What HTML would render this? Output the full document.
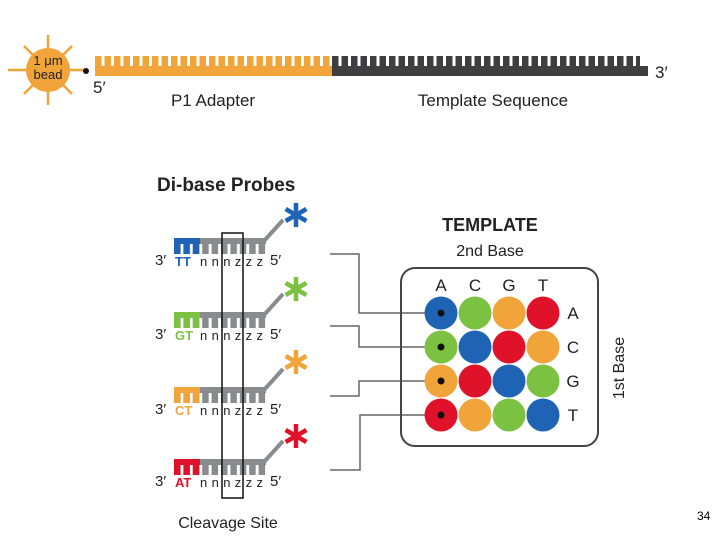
<!DOCTYPE html>
<html><head><meta charset="utf-8"><style>
html,body{margin:0;padding:0;background:#fff;width:720px;height:540px;overflow:hidden}
svg{display:block}
text{font-family:"Liberation Sans",sans-serif}
</style></head><body>
<svg width="720" height="540" viewBox="0 0 720 540" xmlns="http://www.w3.org/2000/svg">
<defs>
<pattern id="po" x="95" y="0" width="9.5" height="20" patternUnits="userSpaceOnUse"><rect x="0" y="0" width="6.5" height="20" fill="#f0a43a"/></pattern>
<pattern id="pg" x="332" y="0" width="9.5" height="20" patternUnits="userSpaceOnUse"><rect x="0" y="0" width="6.5" height="20" fill="#3f3f42"/></pattern>
<pattern id="pgr" x="174" y="0" width="9.4" height="20" patternUnits="userSpaceOnUse"><rect x="0" y="0" width="6.5" height="20" fill="#8a8b8e"/></pattern>
<pattern id="pb1" x="174" width="9.4" height="20" patternUnits="userSpaceOnUse"><rect width="6.5" height="20" fill="#1f63b4"/></pattern>
<pattern id="pb2" x="174" width="9.4" height="20" patternUnits="userSpaceOnUse"><rect width="6.5" height="20" fill="#7cc242"/></pattern>
<pattern id="pb3" x="174" width="9.4" height="20" patternUnits="userSpaceOnUse"><rect width="6.5" height="20" fill="#f0a43a"/></pattern>
<pattern id="pb4" x="174" width="9.4" height="20" patternUnits="userSpaceOnUse"><rect width="6.5" height="20" fill="#e0122a"/></pattern>
<g id="star"><g stroke-width="4.5" stroke-linecap="butt">
<line x1="0" y1="-12" x2="0" y2="12"/><line x1="-10.4" y1="-6" x2="10.4" y2="6"/><line x1="-10.4" y1="6" x2="10.4" y2="-6"/></g></g>
</defs>
<!-- bead -->
<g stroke="#f0a43a" stroke-width="2.5">
<line x1="8" y1="70" x2="88" y2="70"/><line x1="48" y1="35" x2="48" y2="105"/>
<line x1="24" y1="46" x2="72" y2="94"/><line x1="24" y1="94" x2="72" y2="46"/>
</g>
<circle cx="48" cy="70" r="22" fill="#f0a43a"/>
<text x="48" y="65" font-size="13" text-anchor="middle" fill="#222">1 μm</text>
<text x="48" y="79" font-size="13" text-anchor="middle" fill="#222">bead</text>
<circle cx="86" cy="71" r="3" fill="#111"/>
<!-- adapter -->
<rect x="95" y="56" width="237" height="12" fill="url(#po)"/>
<rect x="95" y="66" width="237" height="10" fill="#f0a43a"/>
<rect x="332" y="56" width="308" height="12" fill="url(#pg)"/>
<rect x="332" y="66" width="316" height="10" fill="#3f3f42"/>
<text x="93" y="93" font-size="17" fill="#222">5′</text>
<text x="655" y="78" font-size="17" fill="#222">3′</text>
<text x="213" y="106" font-size="17" text-anchor="middle" fill="#222">P1 Adapter</text>
<text x="493" y="106" font-size="17" text-anchor="middle" fill="#222">Template Sequence</text>
<!-- probes -->
<text x="157" y="191" font-size="19" font-weight="bold" fill="#222">Di-base Probes</text>
<!-- Row 1 blue -->
<rect x="174" y="238" width="92" height="16" fill="url(#pgr)"/><rect x="174" y="238" width="92" height="6" fill="#8a8b8e"/>
<rect x="174" y="238" width="26" height="16" fill="url(#pb1)"/><rect x="174" y="238" width="26" height="6" fill="#1f63b4"/>
<line x1="264" y1="241" x2="283" y2="220" stroke="#8a8b8e" stroke-width="4"/>
<use href="#star" x="296" y="215" stroke="#1f63b4"/>
<text x="155" y="265" font-size="15" fill="#222">3′</text>
<text x="175" y="266" font-size="13" font-weight="bold" fill="#1f63b4">TT</text>
<text x="200" y="266" font-size="13" fill="#222" textLength="63" lengthAdjust="spacing">nnnzzz</text>
<text x="270" y="265" font-size="15" fill="#222">5′</text>
<!-- Row 2 green -->
<rect x="174" y="312" width="92" height="16" fill="url(#pgr)"/><rect x="174" y="312" width="92" height="6" fill="#8a8b8e"/>
<rect x="174" y="312" width="26" height="16" fill="url(#pb2)"/><rect x="174" y="312" width="26" height="6" fill="#7cc242"/>
<line x1="264" y1="315" x2="283" y2="294" stroke="#8a8b8e" stroke-width="4"/>
<use href="#star" x="296" y="289" stroke="#7cc242"/>
<text x="155" y="339" font-size="15" fill="#222">3′</text>
<text x="175" y="340" font-size="13" font-weight="bold" fill="#7cc242">GT</text>
<text x="200" y="340" font-size="13" fill="#222" textLength="63" lengthAdjust="spacing">nnnzzz</text>
<text x="270" y="339" font-size="15" fill="#222">5′</text>
<!-- Row 3 orange -->
<rect x="174" y="387" width="92" height="16" fill="url(#pgr)"/><rect x="174" y="387" width="92" height="6" fill="#8a8b8e"/>
<rect x="174" y="387" width="26" height="16" fill="url(#pb3)"/><rect x="174" y="387" width="26" height="6" fill="#f0a43a"/>
<line x1="264" y1="390" x2="283" y2="369" stroke="#8a8b8e" stroke-width="4"/>
<use href="#star" x="296" y="362" stroke="#f0a43a"/>
<text x="155" y="414" font-size="15" fill="#222">3′</text>
<text x="175" y="415" font-size="13" font-weight="bold" fill="#f0a43a">CT</text>
<text x="200" y="415" font-size="13" fill="#222" textLength="63" lengthAdjust="spacing">nnnzzz</text>
<text x="270" y="414" font-size="15" fill="#222">5′</text>
<!-- Row 4 red -->
<rect x="174" y="459" width="92" height="16" fill="url(#pgr)"/><rect x="174" y="459" width="92" height="6" fill="#8a8b8e"/>
<rect x="174" y="459" width="26" height="16" fill="url(#pb4)"/><rect x="174" y="459" width="26" height="6" fill="#e0122a"/>
<line x1="264" y1="462" x2="283" y2="441" stroke="#8a8b8e" stroke-width="4"/>
<use href="#star" x="296" y="436" stroke="#e0122a"/>
<text x="155" y="486" font-size="15" fill="#222">3′</text>
<text x="175" y="487" font-size="13" font-weight="bold" fill="#e0122a">AT</text>
<text x="200" y="487" font-size="13" fill="#222" textLength="63" lengthAdjust="spacing">nnnzzz</text>
<text x="270" y="486" font-size="15" fill="#222">5′</text>
<!-- cleavage box -->
<rect x="222" y="233" width="21" height="265" fill="none" stroke="#111" stroke-width="1.5"/>
<text x="228" y="528" font-size="16" text-anchor="middle" fill="#222">Cleavage Site</text>
<!-- connectors -->
<g fill="none" stroke="#666" stroke-width="1.5">
<polyline points="330,254 359,254 359,313 441,313"/>
<polyline points="330,326 359,326 359,347 441,347"/>
<polyline points="330,396 359,396 359,381 441,381"/>
<polyline points="330,470 360,470 360,415 441,415"/>
</g>
<!-- grid -->
<text x="490" y="231" font-size="18" font-weight="bold" text-anchor="middle" fill="#222">TEMPLATE</text>
<text x="490" y="256" font-size="16" text-anchor="middle" fill="#222">2nd Base</text>
<rect x="401" y="268" width="197" height="178" rx="14" fill="none" stroke="#444" stroke-width="2"/>
<g font-size="17" fill="#222" text-anchor="middle">
<text x="441" y="291">A</text><text x="475" y="291">C</text><text x="509" y="291">G</text><text x="543" y="291">T</text>
<text x="573" y="319">A</text><text x="573" y="353">C</text><text x="573" y="387">G</text><text x="573" y="421">T</text>
</g>
<text transform="translate(624,368) rotate(-90)" font-size="16" text-anchor="middle" fill="#222">1st Base</text>
<g>
<circle cx="441" cy="313" r="16.5" fill="#1f63b4"/><circle cx="475" cy="313" r="16.5" fill="#7cc242"/><circle cx="509" cy="313" r="16.5" fill="#f0a43a"/><circle cx="543" cy="313" r="16.5" fill="#e0122a"/>
<circle cx="441" cy="347" r="16.5" fill="#7cc242"/><circle cx="475" cy="347" r="16.5" fill="#1f63b4"/><circle cx="509" cy="347" r="16.5" fill="#e0122a"/><circle cx="543" cy="347" r="16.5" fill="#f0a43a"/>
<circle cx="441" cy="381" r="16.5" fill="#f0a43a"/><circle cx="475" cy="381" r="16.5" fill="#e0122a"/><circle cx="509" cy="381" r="16.5" fill="#1f63b4"/><circle cx="543" cy="381" r="16.5" fill="#7cc242"/>
<circle cx="441" cy="415" r="16.5" fill="#e0122a"/><circle cx="475" cy="415" r="16.5" fill="#f0a43a"/><circle cx="509" cy="415" r="16.5" fill="#7cc242"/><circle cx="543" cy="415" r="16.5" fill="#1f63b4"/>
</g>
<g fill="#111"><circle cx="441" cy="313" r="3.5"/><circle cx="441" cy="347" r="3.5"/><circle cx="441" cy="381" r="3.5"/><circle cx="441" cy="415" r="3.5"/></g>
<text x="697" y="520" font-size="12" fill="#000">34</text>
</svg>
</body></html>
